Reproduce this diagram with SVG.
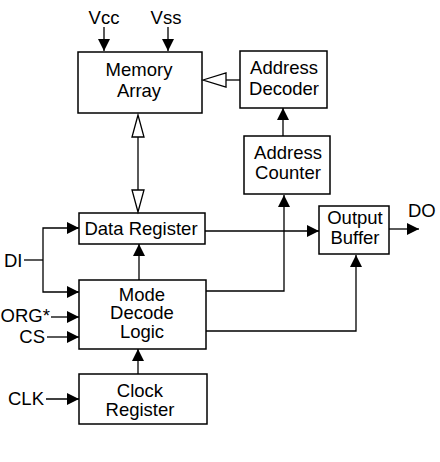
<svg xmlns="http://www.w3.org/2000/svg" width="440" height="462" viewBox="0 0 440 462">
<style>
.box{fill:#fff;stroke:#000;stroke-width:1.5}
.t{font-family:"Liberation Sans",Arial,sans-serif;font-size:18.5px;fill:#000}
.m{text-anchor:middle}
.e{text-anchor:end}
.ln{fill:none;stroke:#000;stroke-width:1.3}
.open{fill:#fff;stroke:#000;stroke-width:1.3}
</style>
<defs>
<marker id="ah" markerUnits="userSpaceOnUse" markerWidth="12" markerHeight="12" viewBox="0 0 12 12" refX="12" refY="6" orient="auto">
<path d="M0,0 L12,6 L0,12 Z" fill="#000"/>
</marker>
</defs>
<rect width="440" height="462" fill="#fff"/>
<g id="memory-array">
<rect class="box" x="78" y="52" width="124" height="61"/>
<text class="t m" x="139" y="76">Memory</text>
<text class="t m" x="139" y="97">Array</text>
</g>
<g id="address-decoder">
<rect class="box" x="240" y="51" width="87" height="57"/>
<text class="t m" x="284" y="74">Address</text>
<text class="t m" x="284" y="95">Decoder</text>
</g>
<g id="address-counter">
<rect class="box" x="244" y="136" width="86" height="58"/>
<text class="t m" x="288" y="159">Address</text>
<text class="t m" x="288" y="179">Counter</text>
</g>
<g id="data-register">
<rect class="box" x="79" y="213" width="126" height="31"/>
<text class="t m" x="141" y="235">Data Register</text>
</g>
<g id="output-buffer">
<rect class="box" x="319" y="206" width="70" height="48"/>
<text class="t m" x="355" y="224">Output</text>
<text class="t m" x="355" y="244">Buffer</text>
</g>
<g id="mode-decode-logic">
<rect class="box" x="79" y="280" width="127" height="69"/>
<text class="t m" x="142" y="301">Mode</text>
<text class="t m" x="142" y="319">Decode</text>
<text class="t m" x="142" y="338">Logic</text>
</g>
<g id="clock-register">
<rect class="box" x="79" y="374" width="128" height="50"/>
<text class="t m" x="140" y="397">Clock</text>
<text class="t m" x="140" y="416">Register</text>
</g>
<g id="labels">
<text class="t m" x="104" y="24">Vcc</text>
<text class="t m" x="166" y="24">Vss</text>
<text class="t" x="4" y="267">DI</text>
<text class="t" x="0.5" y="322">ORG*</text>
<text class="t e" x="45" y="343">CS</text>
<text class="t e" x="44" y="405">CLK</text>
<text class="t" x="408" y="217">DO</text>
</g>
<g id="connectors">
<line class="ln" x1="104" y1="27" x2="104" y2="51" marker-end="url(#ah)"/>
<line class="ln" x1="168" y1="27" x2="168" y2="51" marker-end="url(#ah)"/>
<line class="ln" x1="138" y1="137" x2="138" y2="190"/>
<polygon class="open" points="138,115 132,137 144,137"/>
<polygon class="open" points="138,212 132,190 144,190"/>
<line class="ln" x1="226" y1="80" x2="240" y2="80"/>
<polygon class="open" points="203,80 226,73 226,87"/>
<line class="ln" x1="283" y1="136" x2="283" y2="108" marker-end="url(#ah)"/>
<polyline class="ln" points="24,260 43,260"/>
<polyline class="ln" points="78,228 43,228 43,292 78,292"/>
<line class="ln" x1="70" y1="228" x2="79" y2="228" marker-end="url(#ah)"/>
<line class="ln" x1="70" y1="292" x2="79" y2="292" marker-end="url(#ah)"/>
<line class="ln" x1="51" y1="317" x2="79" y2="317" marker-end="url(#ah)"/>
<line class="ln" x1="47" y1="337" x2="79" y2="337" marker-end="url(#ah)"/>
<line class="ln" x1="46" y1="399" x2="79" y2="399" marker-end="url(#ah)"/>
<line class="ln" x1="139" y1="280" x2="139" y2="244" marker-end="url(#ah)"/>
<line class="ln" x1="138" y1="374" x2="138" y2="349" marker-end="url(#ah)"/>
<line class="ln" x1="205" y1="231" x2="319" y2="231" marker-end="url(#ah)"/>
<polyline class="ln" points="206,291 284,291 284,195" marker-end="url(#ah)"/>
<polyline class="ln" points="206,331 356,331 356,255" marker-end="url(#ah)"/>
<line class="ln" x1="389" y1="229" x2="419" y2="229" marker-end="url(#ah)"/>
</g>
</svg>
